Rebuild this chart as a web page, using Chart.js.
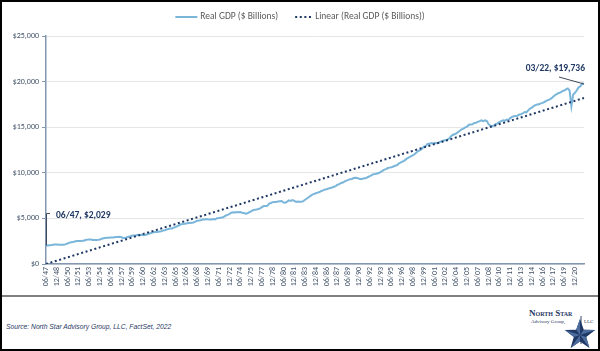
<!DOCTYPE html>
<html>
<head>
<meta charset="utf-8">
<script src="https://cdn.jsdelivr.net/npm/chart.js@4.4.1/dist/chart.umd.min.js"></script>
<style>
  html,body{margin:0;padding:0;background:#fff;}
  #frame{position:relative;width:600px;height:351px;box-sizing:border-box;border:2px solid #000;overflow:hidden;background:#fff;}
  #chartBox{position:absolute;left:0;top:0;width:596px;height:293px;}
  #sep{position:absolute;left:0;top:293px;width:596px;height:2px;background:#7f7f7f;}
  #source{position:absolute;left:4px;top:320px;font:italic 8px 'Liberation Sans',sans-serif;color:#1f3864;white-space:nowrap;transform:scaleX(0.84);transform-origin:0 0;}
  #logo{position:absolute;left:520px;top:300px;width:76px;height:48px;}
  #logo .name{position:absolute;left:7px;top:6px;font:bold 9px 'Liberation Serif',serif;color:#1f3864;font-variant:small-caps;white-space:nowrap;}
  #logo .sub{position:absolute;left:9px;top:17px;font:5px 'Liberation Serif',serif;color:#1f3864;white-space:nowrap;}
  #logo .llc{position:absolute;left:62px;top:17px;font:5px 'Liberation Serif',serif;color:#1f3864;}
  #logo svg{position:absolute;left:0;top:0;}
</style>
</head>
<body>
<div id="frame">
  <div id="chartBox"><canvas id="c"></canvas></div>
  <div id="sep"></div>
  <div id="source">Source: North Star Advisory Group, LLC, FactSet, 2022</div>
  <div id="logo">
    <div class="name">North Star</div>
    <div class="sub">Advisory Group,</div>
    <div class="llc">LLC</div>
    <svg width="76" height="48" viewBox="0 0 76 48">
      <line x1="59" y1="14" x2="59" y2="42" stroke="#1f3864" stroke-width="0.9"/>
      <polygon points="58,17 61.8,27.7 73.2,28.1 64.2,35 67.4,45.9 58,39.5 48.6,45.9 51.8,35 42.8,28.1 54.2,27.7" fill="#1f3864"/>
      <polygon points="58,33 58,17 54.2,27.7" fill="#4d6c9e"/>
      <polygon points="58,33 73.2,28.1 61.8,27.7" fill="#4d6c9e"/>
      <polygon points="58,33 67.4,45.9 64.2,35" fill="#4d6c9e"/>
      <polygon points="58,33 48.6,45.9 58,39.5" fill="#4d6c9e"/>
      <polygon points="58,33 42.8,28.1 51.8,35" fill="#4d6c9e"/>
    </svg>
  </div>
</div>
<script>
// ---------- DATA ----------
const startYear = 1947;          // first quarter shown: 06/47
const startQuarter = 2;
const quarterCount = 300;        // 06/47 ... 03/22
const tickEvery = 6;             // labels shown every 6 quarters (06/47, 12/48, ...)

const seriesName = 'Real GDP ($ Billions)';
const trendName = 'Linear (Real GDP ($ Billions))';

// Real GDP, $ billions, quarterly from 06/47 to 03/22
const gdp = [
  2029,2025,2057,
  2087,2122,2134,2136, 2107,2100,2122,2104, 2186,2253,2340,2385, 2417,2459,2510,2515,
  2535,2537,2550,2628, 2673,2694,2677,2630, 2623,2620,2646,2692, 2762,2817,2860,2891,
  2881,2898,2898,2932, 2956,2948,2975,2936, 2861,2858,2929,2999, 3049,3119,3119,3135,
  3205,3184,3199,3157, 3178,3242,3306,3377, 3439,3474,3508,3512, 3558,3600,3672,3701,
  3785,3834,3886,3902, 3995,4060,4151,4248, 4357,4374,4404,4443, 4483,4491,4525,4559,
  4656,4742,4774,4797, 4867,4880,4918,4897, 4888,4892,4933,4878, 5013,5043,5081,5093,
  5198,5323,5390,5490, 5621,5676,5640,5708, 5678,5697,5628,5595, 5520,5556,5674,5763,
  5901,5941,5982,6035, 6104,6232,6351,6350, 6371,6626,6692,6786, 6799,6807,6864,6881,
  6899,6746,6730,6839, 6980,6920,7001,6917, 6812,6844,6820,6823, 6899,7040,7178,7320,
  7473,7606,7690,7761, 7828,7891,8012,8072, 8160,8197,8284,8327, 8390,8469,8546,8690,
  8763,8884,8936,9056, 9145,9222,9305,9327, 9427,9451,9435,9337, 9293,9357,9404,9432,
  9540,9640,9747,9851, 9866,9921,9980,10110, 10207,10346,10401,10523, 10568,10602,10690,10775,
  10826,11001,11107,11227, 11307,11469,11618,11722, 11823,11927,12068,12255, 12400,12490,12648,12866,
  12924,13162,13179,13257, 13207,13294,13245,13281, 13397,13478,13538,13559, 13634,13752,13985,14146,
  14221,14330,14465,14610, 14772,14840,14972,15067, 15267,15303,15326,15457, 15493,15582,15667,15762,
  15671,15752,15667,15328, 15156,15134,15189,15356, 15415,15557,15672,15751, 15713,15825,15821,16004,
  16129,16199,16221,16239, 16383,16403,16532,16664, 16617,16842,17047,17143, 17306,17423,17486,17514,
  17613,17668,17764,17876, 17977,18054,18186,18359, 18531,18654,18752,18814, 18950,19021,19142,19253,
  19011,17303,18597,18768, 19056,19368,19479,19806,
  19736
];

// Linear trend line, value at first and last quarter
const trendEnds = [0, 18200];

// y-axis ticks
const yMin = 0, yMax = 25000, yStep = 5000;

// ---------- CATEGORIES ----------
const quarterMonths = ['03','06','09','12'];
const labels = [];
for (let i = 0; i < quarterCount; i++) {
  const q = (startQuarter - 1) + i;
  const yr = startYear + Math.floor(q / 4);
  labels.push(quarterMonths[q % 4] + '/' + String(yr % 100).padStart(2, '0'));
}

const FONT = "'Carlito','Liberation Sans Narrow','Liberation Sans',sans-serif";
const TICK_COLOR = '#44546a';
const AXIS_COLOR = '#8497b0';

const legendPlugin = {
  id: 'customLegend',
  afterDraw(chart) {
    const ctx = chart.ctx;
    const ds = chart.data.datasets;
    const sampleW = [22, 17];
    const gapSample = 3, gapItems = 17;
    ctx.save();
    ctx.font = '9.5px ' + FONT;
    const widths = ds.map(d => ctx.measureText(d.label).width);
    let total = 0;
    ds.forEach((d, i) => { total += sampleW[i] + gapSample + widths[i] + (i ? gapItems : 0); });
    let x = (chart.width - total) / 2;
    const y = 15;
    ds.forEach((d, i) => {
      if (i) x += gapItems;
      ctx.beginPath();
      ctx.strokeStyle = d.borderColor;
      ctx.lineWidth = d.borderWidth;
      ctx.setLineDash(d.borderDash || []);
      ctx.moveTo(x, y);
      ctx.lineTo(x + sampleW[i], y);
      ctx.stroke();
      ctx.setLineDash([]);
      x += sampleW[i] + gapSample;
      ctx.fillStyle = '#595959';
      ctx.textBaseline = 'middle';
      ctx.textAlign = 'left';
      ctx.fillText(d.label, x, y);
      x += widths[i];
    });
    ctx.restore();
  }
};

const annotPlugin = {
  id: 'annot',
  afterDatasetsDraw(chart) {
    const {ctx, scales: {x, y}} = chart;
    const n = gdp.length;
    ctx.save();
    ctx.font = 'bold 9.5px ' + FONT;
    ctx.fillStyle = '#1f3864';
    ctx.strokeStyle = '#404a5a';
    ctx.lineWidth = 1;
    // first point
    const x0 = x.getPixelForValue(0), y0 = y.getPixelForValue(gdp[0]);
    ctx.beginPath();
    ctx.moveTo(x0 + 0.5, y0);
    ctx.lineTo(x0 + 0.5, y0 - 32);
    ctx.lineTo(x0 + 4, y0 - 32);
    ctx.stroke();
    ctx.textBaseline = 'middle';
    ctx.textAlign = 'left';
    ctx.fillText(labels[0] + ', $' + gdp[0].toLocaleString('en-US'), x0 + 10, y0 - 30);
    // last point
    const x1 = x.getPixelForValue(n - 1), y1 = y.getPixelForValue(gdp[n - 1]);
    ctx.beginPath();
    ctx.moveTo(x1 - 25, y1 - 7);
    ctx.lineTo(x1, y1);
    ctx.stroke();
    ctx.textAlign = 'right';
    ctx.fillText(labels[n - 1] + ', $' + gdp[n - 1].toLocaleString('en-US'), x1 + 1, y1 - 15);
    ctx.restore();
  }
};

new Chart(document.getElementById('c'), {
  type: 'line',
  data: {
    labels: labels,
    datasets: [
      {
        label: seriesName,
        data: gdp,
        borderColor: '#7ab6da',
        backgroundColor: '#7ab6da',
        borderWidth: 2,
        pointRadius: 0,
        tension: 0,
        order: 2
      },
      {
        label: trendName,
        data: [
          {x: labels[0], y: trendEnds[0]},
          {x: labels[labels.length - 1], y: trendEnds[1]}
        ],
        borderColor: '#1f3864',
        backgroundColor: '#1f3864',
        borderWidth: 2,
        borderDash: [2, 2.6],
        pointRadius: 0,
        order: 1
      }
    ]
  },
  options: {
    responsive: true,
    maintainAspectRatio: false,
    animation: false,
    layout: {padding: {left: 0, right: 14, top: 34, bottom: 0}},
    plugins: {
      legend: {display: false},
      tooltip: {enabled: false}
    },
    scales: {
      x: {
        type: 'category',
        offset: false,
        afterFit(s) { s.height = 31; },
        grid: {display: false, drawTicks: false},
        border: {display: true, color: AXIS_COLOR, width: 1.5},
        ticks: {
          autoSkip: false,
          maxRotation: 90,
          minRotation: 90,
          padding: 3,
          color: TICK_COLOR,
          font: {family: FONT, size: 8},
          callback(v, i) { return i % tickEvery === 0 ? labels[i] : ''; }
        }
      },
      y: {
        min: yMin,
        max: yMax,
        afterFit(s) { s.width = 44; },
        grid: {color: '#e6e6e6', lineWidth: 1, drawTicks: true, tickLength: 4, tickColor: AXIS_COLOR},
        border: {display: true, color: AXIS_COLOR, width: 1.5},
        ticks: {
          stepSize: yStep,
          padding: 3,
          color: TICK_COLOR,
          font: {family: FONT, size: 8},
          callback(v) { return '$' + Number(v).toLocaleString('en-US'); }
        }
      }
    }
  },
  plugins: [annotPlugin, legendPlugin]
});
</script>
</body>
</html>
